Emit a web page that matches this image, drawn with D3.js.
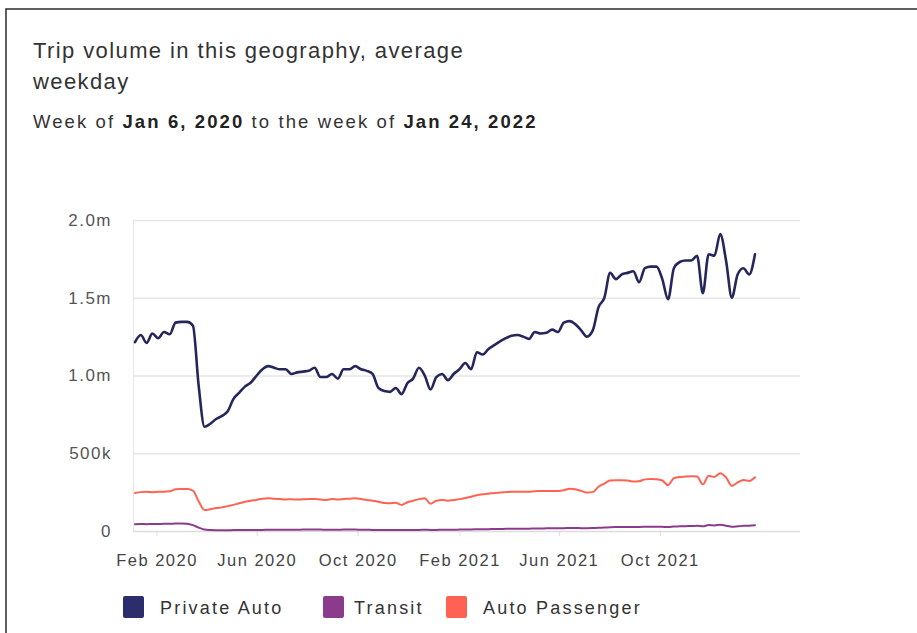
<!DOCTYPE html>
<html>
<head>
<meta charset="utf-8">
<script src="https://cdn.jsdelivr.net/npm/d3@7"></script>
<style>
    html, body { margin: 0; padding: 0; background: #fff; }
    #chart { width: 917px; height: 633px; }
    text { font-family: "Liberation Sans", Arial, sans-serif; }
</style>
</head>
<body>
<div id="chart"></div>
<script>
(function () {
    'use strict';

    // weekly series, first week starts Jan 6, 2020, last week Jan 24, 2022
    var firstWeek = new Date(2020, 0, 6);
    var lastWeek = new Date(2022, 0, 24);

    var seriesNames = ['Private Auto', 'Transit', 'Auto Passenger'];
    var seriesColors = ['#25275c', '#8a3b8c', '#ff6253'];

    // trips, thousands
    var privateAuto = [
        1215, 1260, 1210, 1270, 1240, 1280, 1265, 1340, 1345, 1345,
        1320, 930, 670, 690, 720, 740, 770, 850, 890, 930,
        955, 1000, 1040, 1060, 1050, 1040, 1040, 1010, 1020, 1025,
        1030, 1050, 990, 990, 1010, 980, 1040, 1040, 1060, 1040,
        1030, 1010, 920, 900, 895, 920, 880, 950, 980, 1050,
        1000, 910, 990, 1010, 970, 1010, 1040, 1080, 1040, 1150,
        1135, 1170, 1195, 1220, 1240, 1255, 1260, 1250, 1235, 1280,
        1270, 1275, 1295, 1280, 1340, 1350, 1330, 1290, 1250, 1290,
        1440, 1500, 1660, 1620, 1650, 1660, 1670, 1600, 1690, 1700,
        1700, 1620, 1490, 1690, 1730, 1740, 1740, 1770, 1530, 1780,
        1770, 1910, 1740, 1500, 1650, 1690, 1650, 1780
    ];
    var transit = [
        44, 45, 44, 45, 45, 46, 46, 48, 48, 47,
        38, 22, 9, 6, 5, 5, 5, 6, 6, 6,
        7, 7, 7, 8, 8, 8, 8, 8, 8, 9,
        9, 9, 9, 8, 8, 8, 9, 9, 9, 8,
        8, 7, 7, 6, 6, 6, 6, 7, 7, 7,
        8, 7, 7, 8, 8, 8, 9, 10, 10, 11,
        12, 12, 13, 13, 14, 14, 15, 15, 15, 16,
        16, 17, 17, 18, 18, 19, 19, 18, 18, 19,
        21, 22, 24, 25, 25, 26, 26, 26, 27, 28,
        28, 27, 25, 29, 30, 31, 32, 33, 30, 38,
        36, 40, 34, 28, 30, 33, 34, 37
    ];
    var autoPassenger = [
        245, 250, 252, 250, 252, 252, 255, 268, 270, 270,
        260, 190, 135, 140, 148, 152, 160, 168, 178, 188,
        195, 200, 208, 210, 207, 205, 203, 204, 202, 204,
        206, 205, 203, 200, 205, 203, 206, 208, 211, 206,
        199, 195, 188, 180, 179, 181, 168, 185, 195, 205,
        211, 175, 195, 200, 195, 200, 205, 212, 220, 230,
        236, 240, 245, 247, 250, 252, 252, 252, 253, 256,
        257, 258, 258, 258, 262, 272, 268, 258, 247, 250,
        285, 305, 325, 327, 327, 325, 318, 320, 332, 335,
        333, 325, 295, 340, 348, 350, 352, 350, 300, 355,
        348, 372, 345, 290, 312, 328, 322, 346
    ];

    var yTicks = [0, 500000, 1000000, 1500000, 2000000];
    var yTickLabels = ['0', '500k', '1.0m', '1.5m', '2.0m'];
    var xTicks = [
        new Date(2020, 1, 1), new Date(2020, 5, 1), new Date(2020, 9, 1),
        new Date(2021, 1, 1), new Date(2021, 5, 1), new Date(2021, 9, 1)
    ];

    var init = function (selector) {
        var root = d3.select(selector);
        var width = 917, height = 633;
        var svg = root.append('svg')
            .attr('width', width)
            .attr('height', height);

        // card frame
        svg.append('path')
            .attr('d', 'M 6 ' + height + ' L 6 9 L ' + width + ' 9')
            .attr('fill', 'none')
            .attr('stroke', '#2a2a2a')
            .attr('stroke-width', 1.5);

        // title
        var title = svg.append('g').attr('fill', '#333');
        title.append('text')
            .attr('x', 33).attr('y', 58)
            .attr('font-size', 22)
            .attr('letter-spacing', 1.4)
            .text('Trip volume in this geography, average');
        title.append('text')
            .attr('x', 33).attr('y', 89)
            .attr('font-size', 22)
            .attr('letter-spacing', 1.4)
            .text('weekday');
        var sub = title.append('text')
            .attr('x', 33).attr('y', 128)
            .attr('font-size', 18.5)
            .attr('letter-spacing', 2.1);
        sub.append('tspan').text('Week of ');
        sub.append('tspan').attr('font-weight', 'bold').attr('fill', '#222').text('Jan 6, 2020');
        sub.append('tspan').text(' to the week of ');
        sub.append('tspan').attr('font-weight', 'bold').attr('fill', '#222').text('Jan 24, 2022');

        var weeks = privateAuto.map(function (d, i) { return d3.timeDay.offset(firstWeek, 7 * i); });

        var x = d3.scaleTime()
            .domain([firstWeek, lastWeek])
            .range([135, 755]);
        var y = d3.scaleLinear()
            .domain([0, 2000000])
            .range([531, 220]);

        // grid
        var yAxis = d3.axisLeft(y)
            .tickValues(yTicks)
            .tickSize(-(800 - 133))
            .tickPadding(21)
            .tickFormat(function (d, i) { return yTickLabels[i]; });
        var gy = svg.append('g')
            .attr('transform', 'translate(133,0)')
            .call(yAxis);
        gy.select('.domain').attr('stroke', '#e6e6e6');
        gy.selectAll('.tick line')
            .attr('stroke', function (d) { return d === 0 ? '#dcdcdc' : '#e6e6e6'; })
            .attr('stroke-width', 1.5);
        gy.selectAll('.tick text')
            .attr('fill', '#555')
            .attr('font-size', 17)
            .attr('letter-spacing', 1.5)
            .attr('font-family', '"Liberation Sans", Arial, sans-serif');

        var xAxis = d3.axisBottom(x)
            .tickValues(xTicks)
            .tickSize(5)
            .tickPadding(18)
            .tickFormat(d3.timeFormat('%b %Y'));
        var gx = svg.append('g')
            .attr('transform', 'translate(0,531)')
            .call(xAxis);
        gx.select('.domain').remove();
        gx.selectAll('.tick line').attr('stroke', '#ddd');
        gx.selectAll('.tick text')
            .attr('fill', '#444')
            .attr('font-size', 16.5)
            .attr('letter-spacing', 1.5)
            .attr('font-family', '"Liberation Sans", Arial, sans-serif');

        var line = d3.line()
            .x(function (d, i) { return x(weeks[i]); })
            .y(function (d) { return y(d * 1000); })
            .curve(d3.curveMonotoneX);

        var series = [privateAuto, transit, autoPassenger];
        var widths = [2.6, 2, 2];
        // draw transit & passenger first, private auto on top
        [2, 1, 0].forEach(function (k) {
            svg.append('path')
                .datum(series[k])
                .attr('fill', 'none')
                .attr('stroke', seriesColors[k])
                .attr('stroke-width', widths[k])
                .attr('stroke-linejoin', 'round')
                .attr('stroke-linecap', 'round')
                .attr('d', line);
        });

        // legend
        var legendX = [123, 323, 446];
        var legendTextX = [37, 31, 37];
        var legend = svg.selectAll('.legend')
            .data(seriesNames)
            .enter()
            .append('g')
            .attr('class', 'legend')
            .attr('transform', function (d, i) { return 'translate(' + legendX[i] + ',596)'; });
        legend.append('rect')
            .attr('width', 21).attr('height', 22)
            .attr('rx', 2)
            .attr('fill', function (d, i) { return i === 0 ? '#2b2d6c' : seriesColors[i]; });
        legend.append('text')
            .attr('x', function (d, i) { return legendTextX[i]; })
            .attr('y', 18)
            .attr('font-size', 18)
            .attr('letter-spacing', 2.2)
            .attr('fill', '#333')
            .text(function (d) { return d; });
    };

    document.addEventListener('DOMContentLoaded', function () { return init('#chart'); }, false);
}());
</script>
</body>
</html>
